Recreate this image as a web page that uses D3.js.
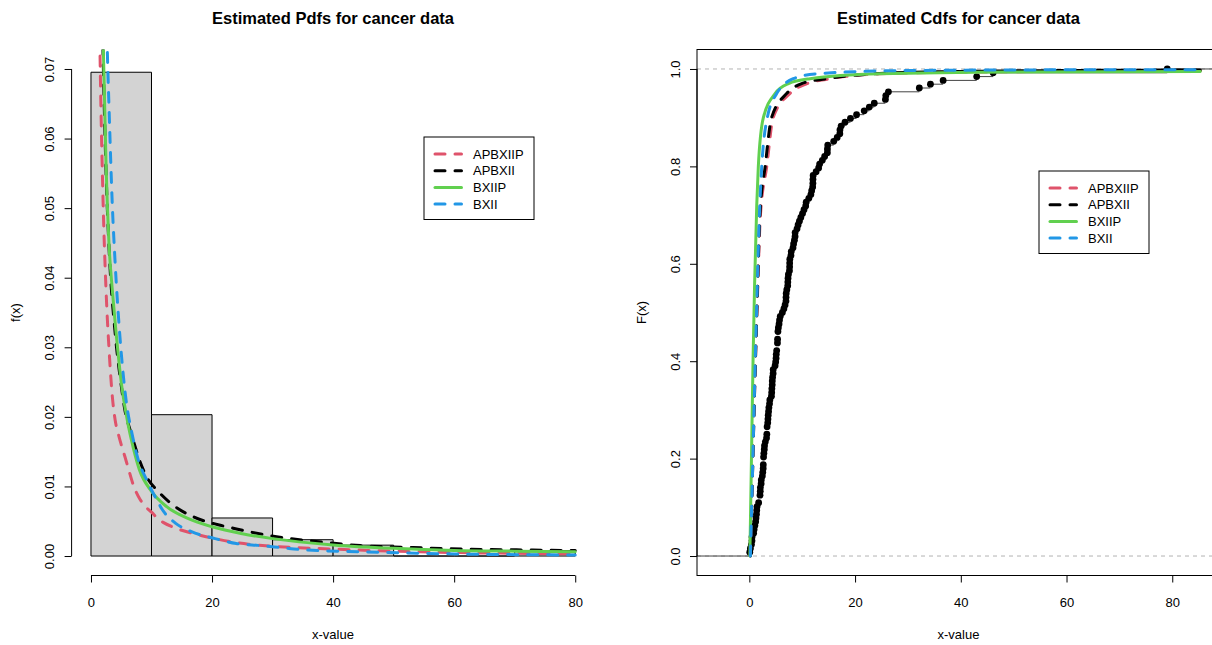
<!DOCTYPE html>
<html>
<head>
<meta charset="utf-8">
<script src="https://cdn.jsdelivr.net/npm/d3@7"></script>
<style>
    body { margin: 0; background: #ffffff; }
    svg text { font-family: "Liberation Sans", Arial, sans-serif; fill: #000; }
</style>
</head>
<body>
<div id="chart"></div>
<script>
// bladder cancer remission times (months), n = 128
const remissionTimes = [
    0.08, 2.09, 3.48, 4.87, 6.94, 8.66, 13.11, 23.63, 0.20, 2.23, 3.52, 4.98, 6.97, 9.02, 13.29,
    0.40, 2.26, 3.57, 5.06, 7.09, 9.22, 13.80, 25.74, 0.50, 2.46, 3.64, 5.09, 7.26, 9.47, 14.24,
    25.82, 0.51, 2.54, 3.70, 5.17, 7.28, 9.74, 14.76, 26.31, 0.81, 2.62, 3.82, 5.32, 7.32, 10.06,
    14.77, 32.15, 2.64, 3.88, 5.32, 7.39, 10.34, 14.83, 34.26, 0.90, 2.69, 4.18, 5.34, 7.59, 10.66,
    15.96, 36.66, 1.05, 2.69, 4.23, 5.41, 7.62, 10.75, 16.62, 43.01, 1.19, 2.75, 4.26, 5.41, 7.63,
    17.12, 46.12, 1.26, 2.83, 4.33, 5.49, 7.66, 11.25, 17.14, 79.05, 1.35, 2.87, 5.62, 7.87, 11.64,
    17.36, 1.40, 3.02, 4.34, 5.71, 7.93, 11.79, 18.10, 1.46, 4.40, 5.85, 8.26, 11.98, 19.13, 1.76,
    3.25, 4.50, 6.25, 8.37, 12.02, 2.02, 3.31, 4.51, 6.54, 8.53, 12.03, 20.28, 2.02, 3.36, 6.76,
    12.07, 21.73, 2.07, 3.36, 6.93, 8.65, 12.63, 22.69
];
const histBreaks = [0, 10, 20, 30, 40, 50, 60, 70, 80];

// fitted pdfs: [x, f(x)]
const pdfAPBXIIP = [[1.2, 0.092], [1.5, 0.072], [2, 0.051], [2.5, 0.038], [3, 0.0295], [3.5, 0.0232],
    [4, 0.0195], [4.5, 0.0176], [5, 0.016], [5.6, 0.0143], [6.1, 0.0128], [7, 0.0102], [8, 0.0083],
    [9, 0.0071], [10, 0.0063], [11, 0.0054], [12, 0.0048], [14, 0.004], [18, 0.003], [21, 0.0024],
    [26, 0.0017], [30, 0.0014], [40, 0.001], [50, 0.0007], [60, 0.0005], [70, 0.0004], [80, 0.0003]];
const pdfAPBXII = [[1.7, 0.085], [2, 0.072], [2.5, 0.055], [3, 0.044], [4, 0.032], [5, 0.0245],
    [5.6, 0.021], [6.5, 0.018], [7.3, 0.0157], [8, 0.0138], [9.2, 0.0114], [11.1, 0.0093], [13.6, 0.0073],
    [17, 0.0056], [21, 0.0045], [23.5, 0.004], [29, 0.003], [33, 0.0025], [36, 0.0022], [44.5, 0.0015],
    [52, 0.00125], [62, 0.00098], [73, 0.00086], [80, 0.00078]];
const pdfBXIIP = [[1.8, 0.085], [2, 0.0745], [2.5, 0.056], [3, 0.0445], [3.5, 0.0385], [4, 0.0335],
    [5, 0.025], [6, 0.0195], [7, 0.0155], [8, 0.0124], [10, 0.0093], [12.5, 0.0071], [16, 0.0054],
    [20, 0.0042], [25, 0.0032], [30, 0.0025], [40, 0.0016], [50, 0.0011], [60, 0.0008], [70, 0.0007],
    [80, 0.0006]];
const pdfBXII = [[2.5, 0.081], [2.7, 0.0727], [3, 0.064], [3.5, 0.051], [4, 0.042], [4.7, 0.0325],
    [5.8, 0.0224], [6.8, 0.0175], [8, 0.0133], [9, 0.0113], [10.6, 0.0085], [12, 0.0064], [14, 0.0047],
    [16.6, 0.0035], [20.5, 0.0025], [24, 0.0018], [28, 0.0015], [31.5, 0.0012], [35, 0.0009],
    [45, 0.0006], [60, 0.0003], [80, 0.00015]];

// fitted cdfs: [x, F(x)]
const cdfAPBXIIP = [[0.2, 0], [0.6, 0.17], [1, 0.34], [1.5, 0.52], [2.1, 0.7], [3.3, 0.8], [4.5, 0.9],
    [7.7, 0.95], [10.9, 0.97], [15.3, 0.98], [24.7, 0.99], [45, 0.994], [85.3, 0.996]];
const cdfAPBXII = [[0.2, 0], [0.6, 0.17], [1, 0.34], [1.5, 0.53], [2, 0.7], [3, 0.8], [4.2, 0.9],
    [7.1, 0.95], [9.9, 0.97], [14.6, 0.98], [23.4, 0.99], [40, 0.995], [85.3, 0.998]];
const cdfBXIIP = [[0.1, 0], [0.4, 0.2], [0.7, 0.4], [1, 0.56], [1.4, 0.72], [1.7, 0.8], [2.65, 0.9],
    [4.9, 0.95], [7.4, 0.97], [11.5, 0.98], [24.7, 0.99], [50, 0.994], [85.3, 0.995]];
const cdfBXII = [[0.2, 0], [0.6, 0.17], [1, 0.35], [1.5, 0.55], [1.9, 0.7], [2.35, 0.8], [3.4, 0.9],
    [5.2, 0.95], [6.75, 0.97], [8.3, 0.98], [12.7, 0.99], [28, 0.9965], [50, 0.998], [85.3, 0.9986]];

const seriesNames = ["APBXIIP", "APBXII", "BXIIP", "BXII"];
const seriesColors = ["#DF536B", "#000000", "#61D04F", "#2297E6"];
const seriesDashed = [true, true, false, true];

const pdfTicksX = [0, 20, 40, 60, 80];
const pdfTicksY = [0, 0.01, 0.02, 0.03, 0.04, 0.05, 0.06, 0.07];
const cdfTicksX = [0, 20, 40, 60, 80];
const cdfTicksY = [0, 0.2, 0.4, 0.6, 0.8, 1];

(() => {
    const width = 1212;
    const height = 645;
    const plotTop = 49.5, plotBottom = 575.5;

    const svg = d3.select("#chart")
        .append("svg")
        .attr("width", width)
        .attr("height", height);

    const defs = svg.append("defs");

    function styleLine(sel, i) {
        sel.attr("fill", "none")
            .attr("stroke", seriesColors[i])
            .attr("stroke-width", 3)
            .attr("stroke-linecap", "round")
            .attr("stroke-dasharray", seriesDashed[i] ? "10,10" : null);
    }

    function drawLegend(x0, y0) {
        const lg = svg.append("g").attr("transform", `translate(${x0},${y0})`);
        lg.append("rect")
            .attr("x", 0.5).attr("y", 0.5)
            .attr("width", 110).attr("height", 82.5)
            .attr("fill", "#fff").attr("stroke", "#000");
        seriesNames.forEach((name, i) => {
            const yy = 17.5 + i * 16.7;
            lg.append("line")
                .attr("x1", 11.5).attr("x2", 38)
                .attr("y1", yy).attr("y2", yy)
                .call(styleLine, i);
            lg.append("text")
                .attr("x", 49.5).attr("y", yy)
                .attr("dy", "0.35em")
                .style("font-size", "13px")
                .text(name);
        });
    }

    function bottomAxis(scale, ticks, fmt) {
        const g = svg.append("g")
            .attr("transform", `translate(0,${plotBottom})`)
            .call(d3.axisBottom(scale).tickValues(ticks).tickFormat(fmt).tickSize(7).tickPadding(15));
        g.select(".domain").remove();
        g.append("line")
            .attr("x1", scale(ticks[0])).attr("x2", scale(ticks[ticks.length - 1]))
            .attr("stroke", "#000");
        g.selectAll("text").style("font-size", "13px").attr("fill", "#000");
        return g;
    }

    function leftAxis(scale, ticks, fmt, x0) {
        const g = svg.append("g")
            .attr("transform", `translate(${x0},0)`)
            .call(d3.axisLeft(scale).tickValues(ticks).tickFormat(fmt).tickSize(7));
        g.select(".domain").remove();
        g.append("line")
            .attr("y1", scale(ticks[0])).attr("y2", scale(ticks[ticks.length - 1]))
            .attr("stroke", "#000");
        g.selectAll(".tick text")
            .attr("x", 0).attr("dy", "0.35em")
            .attr("text-anchor", "middle")
            .attr("transform", "translate(-22,0) rotate(-90)")
            .style("font-size", "13px").attr("fill", "#000");
        return g;
    }

    function titles(cx, x0, main, ylab) {
        svg.append("text")
            .attr("x", cx).attr("y", 24)
            .attr("text-anchor", "middle")
            .style("font-size", "16.5px").style("font-weight", "bold")
            .text(main);
        svg.append("text")
            .attr("x", cx).attr("y", 639)
            .attr("text-anchor", "middle")
            .style("font-size", "13px")
            .text("x-value");
        svg.append("text")
            .attr("transform", `translate(${x0},${(plotTop + plotBottom) / 2}) rotate(-90)`)
            .attr("dy", "0.35em")
            .attr("text-anchor", "middle")
            .style("font-size", "13px")
            .text(ylab);
    }

    // ---------- left: histogram + pdfs ----------
    const xL = d3.scaleLinear().domain([-3.2, 83.2]).range([71.6, 594.6]);
    const yL = d3.scaleLinear().domain([-0.0028, 0.0728]).range([plotBottom, plotTop]);

    defs.append("clipPath").attr("id", "clipL")
        .append("rect").attr("x", 71.6).attr("y", plotTop).attr("width", 523).attr("height", 526);

    const bins = d3.bin()
        .domain([histBreaks[0], histBreaks[histBreaks.length - 1]])
        .thresholds(histBreaks.slice(1, -1))(remissionTimes);
    const n = remissionTimes.length;
    const density = d => d.length / (n * (d.x1 - d.x0));

    // drawn as paths so that empty bins still show their outline
    svg.append("g").selectAll("path")
        .data(bins)
        .join("path")
        .attr("d", d => `M${xL(d.x0)},${yL(0)}V${yL(density(d))}H${xL(d.x1)}V${yL(0)}Z`)
        .attr("fill", "#D3D3D3")
        .attr("stroke", "#000")
        .attr("stroke-width", 1);

    const pdfLine = d3.line()
        .x(d => xL(d[0]))
        .y(d => yL(d[1]))
        .curve(d3.curveMonotoneX);

    const pdfGroup = svg.append("g").attr("clip-path", "url(#clipL)");
    [pdfAPBXIIP, pdfAPBXII, pdfBXIIP, pdfBXII].forEach((s, i) => {
        pdfGroup.append("path").attr("d", pdfLine(s)).call(styleLine, i);
    });

    bottomAxis(xL, pdfTicksX, d3.format("d"));
    leftAxis(yL, pdfTicksY, d3.format(".2f"), 71.6);
    titles(333, 15, "Estimated Pdfs for cancer data", "f(x)");
    drawLegend(423.5, 136.5);

    // ---------- right: ecdf + cdfs ----------
    const xR = d3.scaleLinear().domain([-9.9, 89.03]).range([697, 1220]);
    const yR = d3.scaleLinear().domain([-0.04, 1.04]).range([plotBottom, plotTop]);

    defs.append("clipPath").attr("id", "clipR")
        .append("rect").attr("x", 697).attr("y", plotTop).attr("width", 523).attr("height", 526);

    const right = svg.append("g").attr("clip-path", "url(#clipR)");

    [0, 1].forEach(v => {
        right.append("line")
            .attr("x1", 697).attr("x2", 1220)
            .attr("y1", yR(v)).attr("y2", yR(v))
            .attr("stroke", "#B3B3B3")
            .attr("stroke-dasharray", "4,4");
    });

    const sorted = remissionTimes.slice().sort(d3.ascending);
    const knots = Array.from(new Set(sorted));
    const ecdf = knots.map(k => ({ x: k, F: d3.bisectRight(sorted, k) / n }));
    const xlimEcdf = xR.domain();

    // horizontal steps
    const steps = [{ x0: xlimEcdf[0], x1: knots[0], F: 0 }]
        .concat(ecdf.map((d, i) => ({ x0: d.x, x1: i < ecdf.length - 1 ? ecdf[i + 1].x : xlimEcdf[1], F: d.F })));
    right.append("g").selectAll("line")
        .data(steps)
        .join("line")
        .attr("x1", d => xR(d.x0)).attr("x2", d => xR(d.x1))
        .attr("y1", d => yR(d.F)).attr("y2", d => yR(d.F))
        .attr("stroke", "#444")
        .attr("stroke-width", 1);

    right.append("g").selectAll("circle")
        .data(ecdf)
        .join("circle")
        .attr("cx", d => xR(d.x))
        .attr("cy", d => yR(d.F))
        .attr("r", 3.4)
        .attr("fill", "#000");

    const cdfLine = d3.line()
        .x(d => xR(d[0]))
        .y(d => yR(d[1]))
        .curve(d3.curveMonotoneX);

    [cdfAPBXIIP, cdfAPBXII, cdfBXIIP, cdfBXII].forEach((s, i) => {
        right.append("path").attr("d", cdfLine(s)).call(styleLine, i);
    });

    svg.append("rect")
        .attr("x", 697).attr("y", plotTop)
        .attr("width", 523).attr("height", plotBottom - plotTop)
        .attr("fill", "none").attr("stroke", "#000");

    bottomAxis(xR, cdfTicksX, d3.format("d"));
    leftAxis(yR, cdfTicksY, d3.format(".1f"), 697);
    titles(958.5, 641, "Estimated Cdfs for cancer data", "F(x)");
    drawLegend(1038.5, 170.5);
})();
</script>
</body>
</html>
